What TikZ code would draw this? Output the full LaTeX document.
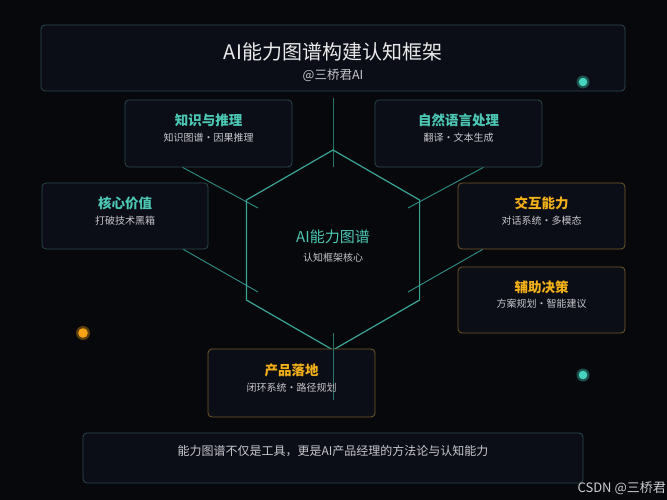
\documentclass[tikz,border=0pt]{standalone}
\usepackage{fontspec}
\setmainfont{Noto Sans CJK SC}
\newfontfamily\cjk{Noto Sans CJK SC}
\definecolor{bgc}{HTML}{07080C}
\definecolor{boxfill}{HTML}{0B0D17}
\definecolor{tealborder}{HTML}{2A4A4E}
\definecolor{goldborder}{HTML}{745A28}
\definecolor{hexline}{HTML}{3AA597}
\definecolor{connline}{HTML}{2F8F84}
\definecolor{tealtext}{HTML}{4CC7B3}
\definecolor{orangetext}{HTML}{F2B019}
\definecolor{whitetext}{HTML}{EAEAEA}
\definecolor{subtext}{HTML}{C8C8CC}
\definecolor{tealdot}{HTML}{45D3BF}
\definecolor{orangedot}{HTML}{F5A214}
\tikzset{
  basebox/.style={rectangle, rounded corners=4pt, fill=boxfill, line width=0.8pt, inner sep=0pt},
  tbox/.style={basebox, draw=tealborder, minimum width=167pt, minimum height=67pt},
  gbox/.style={basebox, draw=goldborder, minimum width=167pt, minimum height=67pt},
  ttl/.style={font=\cjk\fontsize{13.5}{15}\selectfont\bfseries, inner sep=0pt},
  subt/.style={font=\cjk\fontsize{10}{12}\selectfont, text=subtext, inner sep=0pt},
  hexedge/.style={draw=hexline, line width=1.2pt, line join=miter},
  conn/.style={draw=connline, line width=0.9pt},
  vline/.style={draw=connline!80!bgc, line width=0.9pt},
}
\begin{document}
\begin{tikzpicture}[x=1pt,y=-1pt]
\fill[bgc] (0,0) rectangle (667,500);
\useasboundingbox (0,0) rectangle (667,500);

% title box
\node[basebox, draw=tealborder, minimum width=584pt, minimum height=66pt] (titlebox) at (333,58) {};
\node[font=\cjk\fontsize{20}{22}\selectfont, text=whitetext, inner sep=0pt] (title) at (333,52) {AI能力图谱构建认知框架};
\node[font=\cjk\fontsize{12.5}{14}\selectfont, text=subtext, inner sep=0pt] (author) at (333,75) {@三桥君AI};

% dots
\fill[tealdot!35!bgc] (583,82) circle (6.5pt);
\fill[tealdot] (583,82) circle (4.3pt);
\fill[tealdot!35!bgc] (583,375) circle (6.5pt);
\fill[tealdot] (583,375) circle (4.3pt);
\fill[orangedot!35!bgc] (83,333) circle (7pt);
\fill[orangedot] (83,333) circle (4.8pt);

% hexagon vertices
\coordinate (h1) at (333,150);
\coordinate (h2) at (419.6,200);
\coordinate (h3) at (419.6,300);
\coordinate (h4) at (333,350);
\coordinate (h5) at (246.4,300);
\coordinate (h6) at (246.4,200);

% vertical lines
\coordinate (vt1) at (333,98);
\coordinate (vt2) at (333,167);
\coordinate (vb1) at (333,333);
\coordinate (vb2) at (333,400);

% boxes
\node[tbox] (kr) at (208.5,133.5) {};
\node[tbox] (nlp) at (458.5,133.5) {};
\node[tbox, minimum width=166pt, minimum height=66pt] (core) at (125,216) {};
\node[gbox, minimum height=66pt] (inter) at (541.5,216) {};
\node[gbox, minimum height=66pt] (aid) at (541.5,300) {};
\node[basebox, draw=tealborder, minimum width=500pt, minimum height=50pt] (bottom) at (333,458) {};

% connector end points inside hexagon
\coordinate (e1) at (258,208);
\coordinate (e2) at (408,208);
\coordinate (e3) at (258,292);
\coordinate (e4) at (408,292);

% connectors
\draw[conn] ([xshift=58pt]kr.south west) -- (e1);
\draw[conn] ([xshift=-59pt]nlp.south east) -- (e2);
\draw[conn] ([xshift=-25pt]core.south east) -- (e3);
\draw[conn] ([xshift=25pt]inter.south west) -- (e4);
\draw[vline] (vt1) -- (vt2);

% hexagon
\draw[hexedge] (h1) -- (h2) -- (h3) -- (h4) -- (h5) -- (h6) -- cycle;
\node[font=\cjk\fontsize{15}{17}\selectfont, text=tealtext, inner sep=0pt] (center) at (333,237) {AI能力图谱};
\node[subt] (centersub) at (333,258) {认知框架核心};

% product box (drawn over hexagon bottom)
\node[gbox, minimum height=68pt] (prod) at (291.5,383) {};
\draw[vline] (vb1) -- (vb2);

% box texts
\node[ttl, text=tealtext] (krt) at (208.5,120) {知识与推理};
\node[subt] (krs) at (208.5,138) {知识图谱・因果推理};
\node[ttl, text=tealtext] (nlpt) at (458.5,120) {自然语言处理};
\node[subt] (nlps) at (458.5,138) {翻译・文本生成};
\node[ttl, text=tealtext] (coret) at (125,203) {核心价值};
\node[subt] (cores) at (125,221) {打破技术黑箱};
\node[ttl, text=orangetext] (intert) at (541.5,203) {交互能力};
\node[subt] (inters) at (541.5,221) {对话系统・多模态};
\node[ttl, text=orangetext] (aidt) at (541.5,287) {辅助决策};
\node[subt] (aids) at (541.5,304) {方案规划・智能建议};
\node[ttl, text=orangetext] (prodt) at (291.5,370) {产品落地};
\node[subt] (prods) at (291.5,388) {闭环系统・路径规划};

\node[font=\cjk\fontsize{12}{14}\selectfont, text=subtext, inner sep=0pt] (bottomt) at (333,451) {能力图谱不仅是工具，更是AI产品经理的方法论与认知能力};

\node[font=\cjk\fontsize{13}{14}\selectfont, text=subtext!90!white, anchor=east, inner sep=0pt] (mark) at (666,488) {CSDN @三桥君};
\end{tikzpicture}
\end{document}
